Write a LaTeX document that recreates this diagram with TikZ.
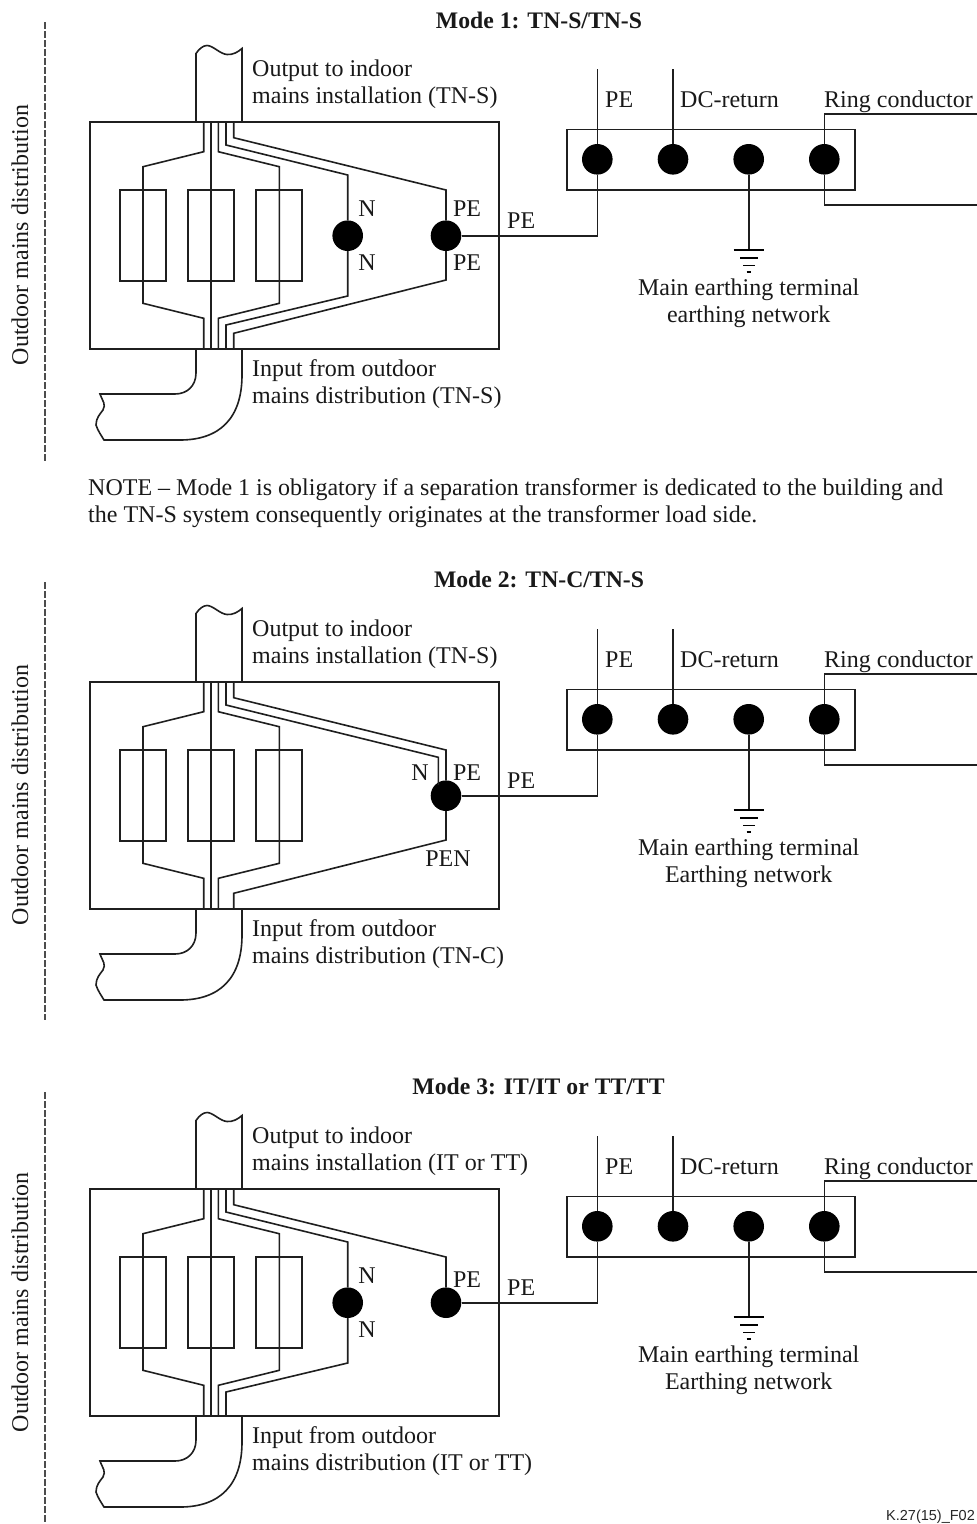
\documentclass[tikz,border=0pt]{standalone}
\usepackage{fontspec}
\setmainfont{Liberation Serif}
\newfontfamily\refsans{Liberation Sans}
\tikzset{
  lw/.style={line width=1.6pt,draw=black!88,outer sep=0pt},
  dot/.style={circle,fill=black,draw=none,minimum size=30.6pt,inner sep=0pt},
  lab/.style={font=\fontsize{24}{27}\selectfont,inner sep=0pt,text=black!90},
  labw/.style={lab,anchor=base west},
  labc/.style={lab,anchor=base},
  head/.style={lab,font=\fontsize{23.7}{27}\selectfont\bfseries,anchor=base},
}
\newcommand{\commonpart}[5]{%
  % #1 title x, #2 title baseline, #3 title, #4 output type, #5 input type
  \node[head] (title) at (#1,#2) {#3};
  \draw[lw] (196,122) -- (196,53.5) .. controls (199,49) and (203,45.5) .. (207,45.5)
     .. controls (213,45.5) and (220,54) .. (227,54.5) .. controls (233,55) and (238,52) .. (242,48.5) -- (242,122);
  \draw[lw] (196,349) -- (196,373) .. controls (196,386) and (187,394) .. (175,394) -- (100,394)
     .. controls (103,402) and (106,404) .. (103,410) .. controls (100,414) and (96,418) .. (96,425)
     .. controls (98,431) and (101,435) .. (104,440) -- (180,440) .. controls (220,440) and (242,418) .. (242,375) -- (242,349);
  \node[draw,lw,minimum width=409pt,minimum height=227.3pt,inner sep=0pt,anchor=north west] (box) at (90,121.7) {};
  \foreach \nm/\xa in {a/120,b/188,c/256}{
    \node[draw,lw,minimum width=46pt,minimum height=90.7pt,inner sep=0pt,anchor=north west] (fuse\nm) at (\xa,190) {};
  }
  \draw[lw] (203.7,121.7) -- (203.7,151.7) -- (143,166.7) -- (143,303.3) -- (203.7,318.3) -- (203.7,349);
  \draw[lw] (210.7,121.7) -- (210.7,349);
  \draw[lw] (218.3,121.7) -- (218.3,151.7) -- (279.3,166.7) -- (279.3,303.3) -- (218.3,318.3) -- (218.3,349);
  \node[draw,lw,minimum width=288pt,minimum height=60.7pt,inner sep=0pt,anchor=north west] (bar) at (566.7,129.3) {};
  \foreach \nm/\xa in {pe/597.3,dc/673,me/748.7,rc/824.3}{
    \node[dot] (t\nm) at (\xa,159.3) {};
  }
  \coordinate (petop) at (597.3,69);
  \coordinate (dctop) at (673,69);
  \coordinate (ringa) at (977,114);
  \coordinate (ringb) at (977,205);
  \coordinate (earth) at (748.7,250);
  \draw[lw] (petop) -- (tpe);
  \draw[lw] (dctop) -- (tdc);
  \draw[lw] (tme) -- (earth);
  \draw[lw] (trc) |- (ringa);
  \draw[lw] (trc) |- (ringb);
  \draw[line width=2.8pt,draw=black] (733.7,250) -- (763.7,250);
  \draw[line width=1.3pt] (740,258) -- (757.5,258);
  \draw[line width=1.3pt] (743,265.5) -- (754.5,265.5);
  \draw[line width=1.3pt] (746.5,272) -- (751,272);
  \node[labw] (lout1) at (252,76) {Output to indoor};
  \node[labw] (lout2) at (252,103) {mains installation (#4)};
  \node[labw] (lin1) at (252,376) {Input from outdoor};
  \node[labw] (lin2) at (252,403.3) {mains distribution (#5)};
  \node[labw] (lpe) at (605,107.7) {PE};
  \node[labw] (ldc) at (680,107.7) {DC-return};
  \node[labw] (lrc) at (824,107.7) {Ring conductor};
  \node[labc] (lme) at (748.7,295) {Main earthing terminal};
}
\newcommand{\sidepart}[3]{%
  \node[lab,rotate=90] (side) at (20,#1) {Outdoor mains distribution};
  \coordinate (sidea) at (45,#2);
  \coordinate (sideb) at (45,#3);
  \draw[line width=1.4pt,draw=black!70,dash pattern=on 7.3pt off 1.7pt] (sidea) -- (sideb);
}
\begin{document}
\begin{tikzpicture}[x=1pt,y=-1pt]
\useasboundingbox (0,0) rectangle (977,1524);
\clip (0,0) rectangle (977,1524);
\fill[white] (0,0) rectangle (977,1524);

% ---------- Mode 1
\begin{scope}[name prefix=a-]
  \commonpart{539}{28}{Mode 1: TN-S/TN-S}{TN-S}{TN-S}
  \sidepart{235}{22}{462}
  \node[labc] (lnet) at (748.7,322.5) {earthing network};
  \node[dot] (dn) at (347.7,235.7) {};
  \node[dot] (dp) at (446,235.7) {};
  \draw[lw] (226,121.7) -- (226,145) -- (347.7,175) -- (dn);
  \draw[lw] (dn) -- (347.7,296) -- (226,325) -- (226,349);
  \draw[lw] (233.7,121.7) -- (233.7,137.7) -- (446,190) -- (dp);
  \draw[lw] (dp) -- (446,280) -- (233.7,333.3) -- (233.7,349);
  \draw[lw] (dp) -- (597.3,235.7) -- (tpe);
  \node[labc] at (367,216.7) (n1) {N};
  \node[labc] at (367,270) (n2) {N};
  \node[labc] at (467,216.7) (p1) {PE};
  \node[labc] at (467,270) (p2) {PE};
  \node[labw] at (507,228) (p3) {PE};
\end{scope}

\node[labw] (note1) at (88,495.5) {NOTE -- Mode 1 is obligatory if a separation transformer is dedicated to the building and};
\node[labw] (note2) at (88,522.5) {the TN-S system consequently originates at the transformer load side.};

% ---------- Mode 2
\begin{scope}[shift={(0,560)},name prefix=b-]
  \commonpart{539}{27}{Mode 2: TN-C/TN-S}{TN-S}{TN-C}
  \sidepart{235}{22}{460}
  \node[labc] (lnet) at (748.7,322.5) {Earthing network};
  \node[dot] (dp) at (446,235.7) {};
  \draw[lw] (226,121.7) -- (226,145) -- (438.3,197.3) -- (438.3,225);
  \draw[lw] (233.7,121.7) -- (233.7,137.7) -- (446,190) -- (dp);
  \draw[lw] (dp) -- (446,280) -- (233.7,333.3) -- (233.7,349);
  \draw[lw] (dp) -- (597.3,235.7) -- (tpe);
  \node[labc] at (420,220) (n1) {N};
  \node[labc] at (467,220) (p1) {PE};
  \node[labc] at (448,306.7) (p2) {PEN};
  \node[labw] at (507,228) (p3) {PE};
\end{scope}

% ---------- Mode 3
\begin{scope}[shift={(0,1067)},name prefix=c-]
  \commonpart{538.5}{27}{Mode 3: IT/IT or TT/TT}{IT or TT}{IT or TT}
  \sidepart{235}{25}{470}
  \node[labc] (lnet) at (748.7,322.5) {Earthing network};
  \node[dot] (dn) at (347.7,235.7) {};
  \node[dot] (dp) at (446,235.7) {};
  \draw[lw] (226,121.7) -- (226,145) -- (347.7,175) -- (dn);
  \draw[lw] (dn) -- (347.7,296) -- (226,325) -- (226,349);
  \draw[lw] (233.7,121.7) -- (233.7,137.7) -- (446,190) -- (dp);
  \draw[lw] (dp) -- (597.3,235.7) -- (tpe);
  \node[labc] at (367,216) (n1) {N};
  \node[labc] at (367,270) (n2) {N};
  \node[labc] at (467,220) (p1) {PE};
  \node[labw] at (507,228) (p3) {PE};
\end{scope}

\node[anchor=base west,inner sep=0pt,font=\refsans\fontsize{14.5}{16}\selectfont,text=black!85] (ref) at (886,1520.5) {K.27(15)\_F02};
\end{tikzpicture}
\end{document}
